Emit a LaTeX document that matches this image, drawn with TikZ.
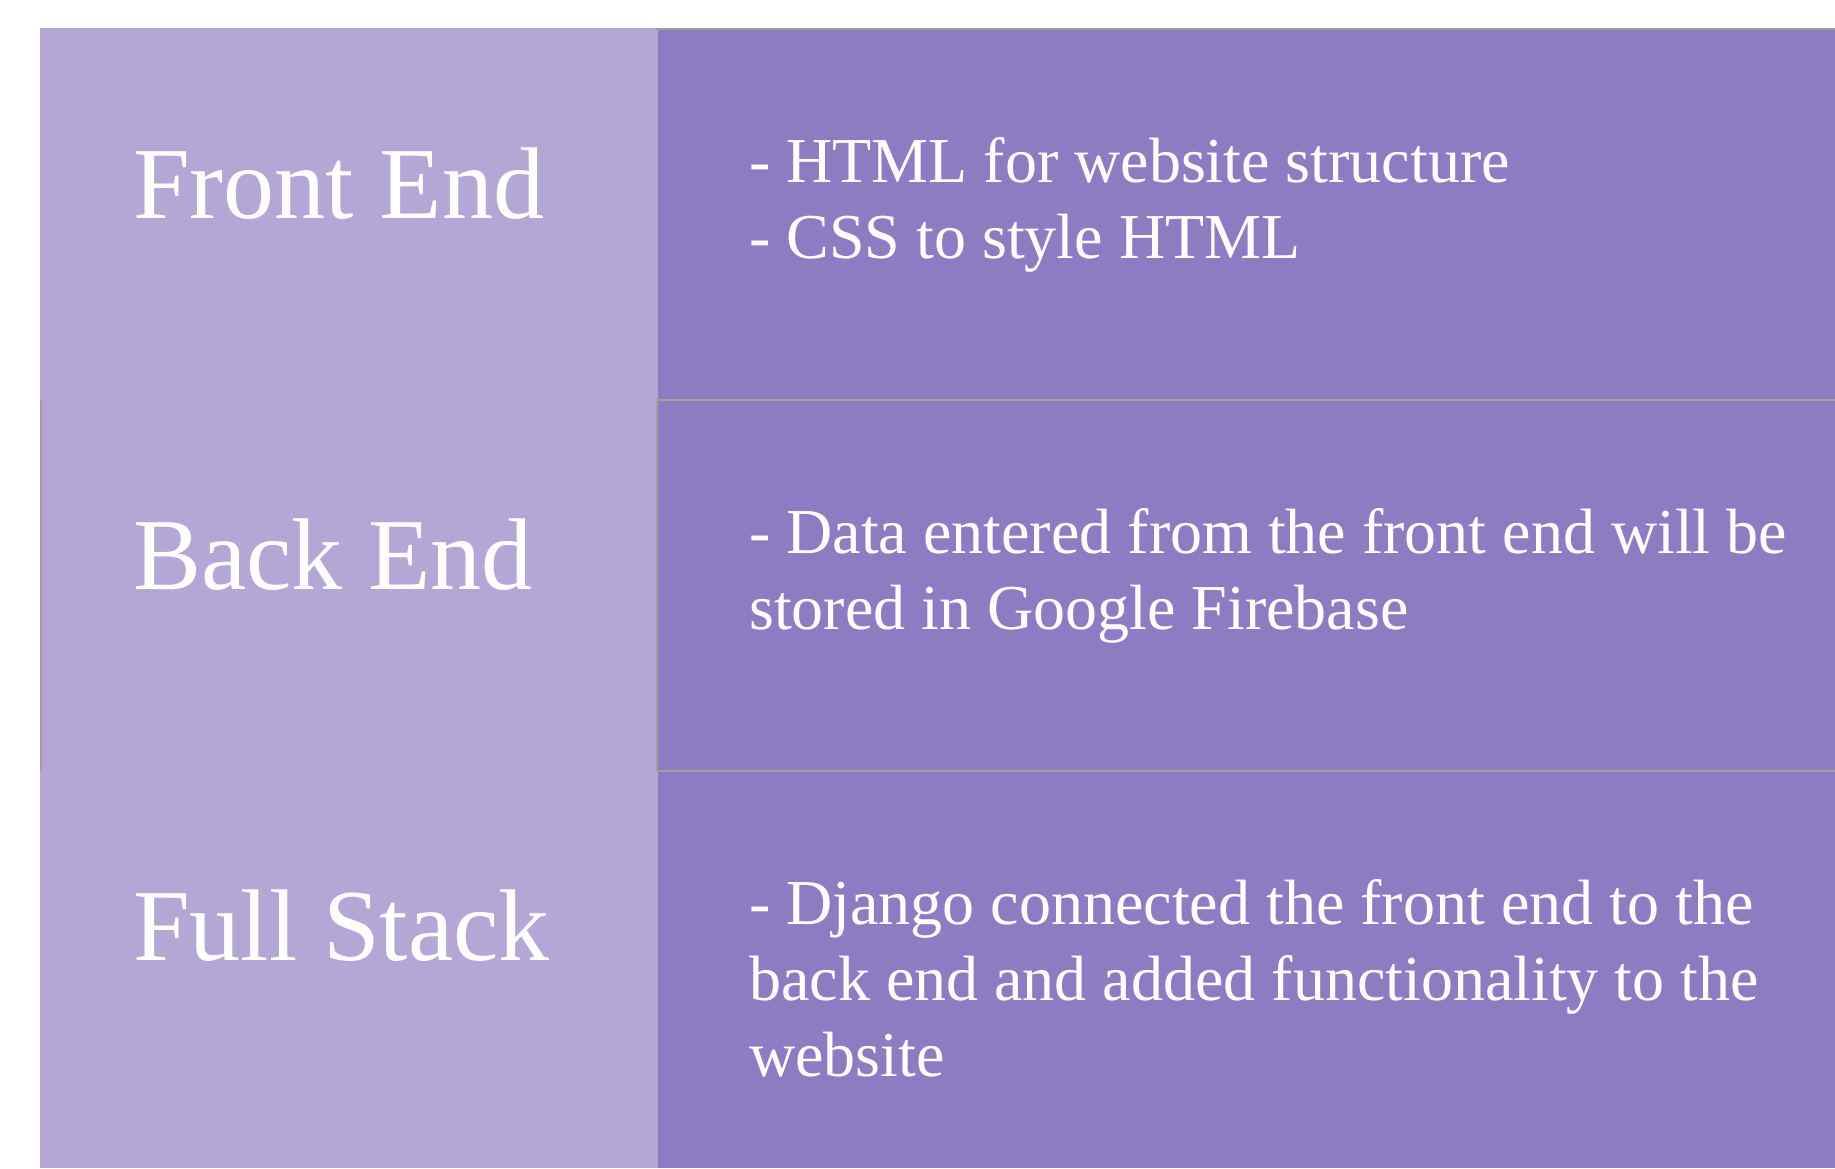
\documentclass[tikz,border=0pt]{standalone}
\usepackage{fontspec}
\setmainfont{Liberation Serif}
\usepackage{xcolor}
\usetikzlibrary{positioning}
\definecolor{lavlight}{HTML}{B4A7D6}
\definecolor{lavdark}{HTML}{8E7CC3}
\definecolor{rulegray}{HTML}{A0A0A0}

\begin{document}
\begin{tikzpicture}[
  x=1pt, y=-1pt,
  headtxt/.style={anchor=base west, inner sep=0pt, text=white, font=\fontsize{102}{120}\selectfont},
  bodytxt/.style={anchor=base west, inner sep=0pt, text=white, align=left, font=\fontsize{64}{76}\selectfont},
  gridline/.style={draw=rulegray, line width=2pt},
]
\useasboundingbox (0,0) rectangle (1835,1168);

% columns
\fill[lavlight] (40,28) rectangle (658,1168);
\fill[lavdark] (658,28) rectangle (1835,1168);

% cell borders
\draw[gridline] (656,29) -- (1835,29);
\draw[gridline] (656,400) -- (1835,400);
\draw[gridline] (656,771) -- (1835,771);
\draw[gridline] (657,400) -- (657,771);
\draw[gridline] (41,400) -- (41,771);

% left column
\node[headtxt] (front) at (133,218) {Front End};
\node[headtxt] (back) at (133,589) {Back End};
\node[headtxt] (full) at (133,960) {Full Stack};

% right column (base anchor sits on the last line)
\node[bodytxt] (frontinfo) at (749,258) {- HTML for website structure\\- CSS to style HTML};
\node[bodytxt] (backinfo) at (749,629) {- Data entered from the front end will be\\stored in Google Firebase};
\node[bodytxt] (fullinfo) at (749,1076) {- Django connected the front end to the\\back end and added functionality to the\\website};
\end{tikzpicture}
\end{document}
